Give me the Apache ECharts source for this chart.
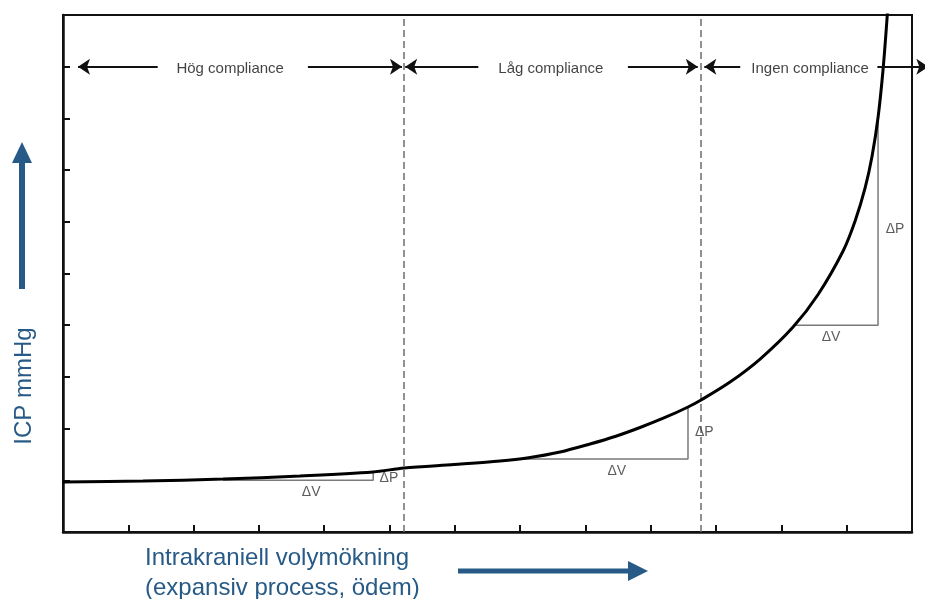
<!DOCTYPE html>
<html>
<head>
<meta charset="utf-8">
<script src="https://cdn.jsdelivr.net/npm/echarts@6/dist/echarts.min.js"></script>
<style>
  html, body { margin: 0; padding: 0; background: #fff; }
  #chart { width: 925px; height: 599px; }
</style>
</head>
<body>
<div id="chart"></div>
<script>
// pressure-volume curve (x = volume units, y = pressure units)
var curveX = [0, 1.225, 2.45, 3.629, 4.747, 5.222, 5.988, 6.692, 7.106, 7.611, 8.07, 8.453, 8.836, 9.219, 9.571, 9.77, 10.214, 10.674, 11.179, 11.562, 11.945, 12.129, 12.282, 12.389, 12.481, 12.557, 12.619, 12.649];
var curveY = [0.967, 0.986, 1.025, 1.083, 1.161, 1.238, 1.306, 1.373, 1.431, 1.547, 1.702, 1.847, 2.021, 2.215, 2.418, 2.553, 2.901, 3.346, 3.965, 4.594, 5.435, 6.015, 6.654, 7.273, 8.027, 8.946, 9.952, 10.55];

// delta triangles: [x start, x corner, y base, y top]
var triangles = [
  [2.45, 4.75, 1.0, 1.17],
  [7.0, 9.57, 1.41, 2.42],
  [11.18, 12.48, 4.0, 8.03]
];
var deltaLabels = [
  ['ΔV', 3.80, 0.77], ['ΔP', 4.99, 1.04],
  ['ΔV', 8.48, 1.18], ['ΔP', 9.82, 1.93],
  ['ΔV', 11.76, 3.77], ['ΔP', 12.74, 5.86]
];

// zone borders and zone labels
var zoneBorders = [5.22, 9.77];
var zoneNames = ['Hög compliance', 'Låg compliance', 'Ingen compliance'];
var zoneLabelX = [2.56, 7.47, 11.44];
var arrowY = 9;
// [tail, tip]
var arrowSegs = [[1.45, 0.23], [3.75, 5.19], [6.36, 5.24], [8.65, 9.72], [10.37, 9.82], [12.47, 13.25]];

var chart = echarts.init(document.getElementById('chart'));

var curveData = curveX.map(function (x, i) { return [x, curveY[i]]; });

var series = [];
series.push({
  type: 'line',
  data: curveData,
  smooth: 0.3,
  symbol: 'none',
  lineStyle: { color: '#000', width: 3 },
  z: 5,
  markLine: {
    silent: true,
    symbol: 'none',
    label: { show: false },
    lineStyle: { color: '#6e6e6e', width: 1.5, type: [7, 4] },
    data: zoneBorders.map(function (v) { return { xAxis: v }; })
  }
});

triangles.forEach(function (t) {
  series.push({
    type: 'line',
    data: [[t[0], t[2]], [t[1], t[2]], [t[1], t[3]]],
    symbol: 'none',
    lineStyle: { color: '#7a7a7a', width: 1.5 },
    z: 3
  });
});

series.push({
  type: 'scatter',
  symbolSize: 0,
  data: deltaLabels.map(function (d) { return { name: d[0], value: [d[1], d[2]] }; }),
  label: {
    show: true, position: 'inside', formatter: '{b}',
    color: '#333', fontSize: 14, fontFamily: 'Liberation Sans'
  },
  z: 6
});

series.push({
  type: 'scatter',
  symbolSize: 0,
  data: zoneNames.map(function (n, i) { return { name: n, value: [zoneLabelX[i], arrowY] }; }),
  label: {
    show: true, position: 'inside', formatter: '{b}', offset: [0, 2],
    color: '#111', fontSize: 15, fontFamily: 'Liberation Sans'
  },
  z: 6
});

series.push({
  type: 'lines',
  coordinateSystem: 'cartesian2d',
  clip: false,
  symbol: ['none', 'arrow'],
  symbolSize: 12,
  lineStyle: { color: '#111', width: 1.8, opacity: 1 },
  data: arrowSegs.map(function (s) { return { coords: [[s[0], arrowY], [s[1], arrowY]] }; }),
  z: 6
});

var option = {
  animation: false,
  grid: {
    left: 63, top: 15, right: 13, bottom: 67,
    show: true, borderColor: '#111', borderWidth: 2
  },
  xAxis: {
    type: 'value', min: 0, max: 13, interval: 1,
    axisLine: { show: true, onZero: false, lineStyle: { color: '#111', width: 2.5 } },
    axisTick: { show: true, inside: true, length: 7, lineStyle: { color: '#111', width: 2 } },
    axisLabel: { show: false },
    splitLine: { show: false }
  },
  yAxis: {
    type: 'value', min: 0, max: 10, interval: 1,
    axisLine: { show: true, onZero: false, lineStyle: { color: '#111', width: 2.5 } },
    axisTick: { show: true, inside: true, length: 7, lineStyle: { color: '#111', width: 2 } },
    axisLabel: { show: false },
    splitLine: { show: false }
  },
  series: series,
  graphic: [
    {
      type: 'text',
      x: 24, y: 386,
      rotation: Math.PI / 2,
      style: {
        text: 'ICP mmHg', fill: '#275a86',
        font: '24px "Liberation Sans", Arial, sans-serif',
        textAlign: 'center', textVerticalAlign: 'middle',
        align: 'center', verticalAlign: 'middle'
      }
    },
    { type: 'rect', shape: { x: 19, y: 160, width: 6, height: 129 }, style: { fill: '#275a86' } },
    { type: 'polygon', shape: { points: [[12, 163], [32, 163], [22, 142]] }, style: { fill: '#275a86' } },
    {
      type: 'text',
      x: 145, y: 543,
      style: {
        text: 'Intrakraniell volymökning\n(expansiv process, ödem)',
        fill: '#275a86', lineHeight: 30,
        font: '24px "Liberation Sans", Arial, sans-serif'
      }
    },
    { type: 'rect', shape: { x: 458, y: 568.5, width: 172, height: 5 }, style: { fill: '#275a86' } },
    { type: 'polygon', shape: { points: [[628, 561], [628, 581], [648, 571]] }, style: { fill: '#275a86' } }
  ]
};

chart.setOption(option);
</script>
</body>
</html>
